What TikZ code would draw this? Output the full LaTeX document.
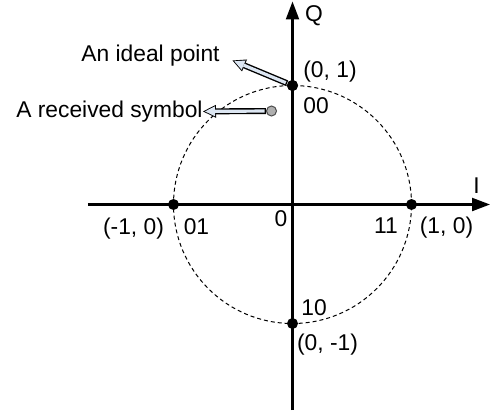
\documentclass[tikz,border=0pt]{standalone}
\usepackage{fontspec}
\setmainfont{Liberation Sans}
\usetikzlibrary{arrows.meta}
\definecolor{arrowfill}{RGB}{220,230,242}
\definecolor{symgrey}{RGB}{175,175,175}

\begin{document}
\begin{tikzpicture}[x=0.5pt, y=0.5pt,
    font=\fontsize{11.4}{13.5}\selectfont,
    axis/.style={line width=1.1pt, -{Triangle[length=9pt, width=6.5pt]}},
    dot/.style={circle, fill=black, inner sep=0pt, minimum size=5.5pt},
    lbl/.style={inner sep=0pt, anchor=base},
    hollowout/.style={line width=3pt, -{Triangle[length=6.5pt, width=6.5pt, line width=0pt]}},
    hollowin/.style={line width=1.6pt, arrowfill, shorten >=1pt, shorten <=0.7pt,
        -{Triangle[length=5pt, width=5pt, line width=0pt]}}]
    \useasboundingbox (-292.5,-207.5) rectangle (197.5,204.5);

    \coordinate (O) at (0,0);
    \coordinate (xs) at (-204.5,0);
    \coordinate (xe) at (197.5,0);
    \coordinate (ys) at (0,-205.5);
    \coordinate (ye) at (0,203);

    % unit circle
    \draw[line width=0.5pt, dash pattern=on 2pt off 1.5pt] (O) circle (119);

    % axes
    \draw[axis] (xs) -- (xe);
    \draw[axis] (ys) -- (ye);
    \node[lbl] (Ilab) at (184,11) {I};
    \node[lbl] (Qlab) at (21.5,182.5) {Q};

    % symbols
    \node[dot] (p00) at (0,119) {};
    \node[dot] (p01) at (-119,0) {};
    \node[dot] (p11) at (119,0) {};
    \node[dot] (p10) at (0,-119) {};
    \node[circle, draw=black!70, fill=symgrey, line width=0.5pt,
        inner sep=0pt, minimum size=5pt] (rx) at (-21,93.5) {};

    \node[lbl] (c00) at (23.5,91) {00};
    \node[lbl] (v00) at (37.5,127) {(0, 1)};
    \node[lbl] (c01) at (-96,-29.5) {01};
    \node[lbl] (v01) at (-159,-29.5) {(-1, 0)};
    \node[lbl] (c11) at (93.5,-29) {11};
    \node[lbl] (v11) at (154,-29) {(1, 0)};
    \node[lbl] (c10) at (21.5,-110.5) {10};
    \node[lbl] (v10) at (35,-145.5) {(0, -1)};
    \node[lbl] (olab) at (-11.5,-22) {0};

    % callouts
    \node[lbl] (ideal) at (-142,142.8) {An ideal point};
    \node[lbl, anchor=base east] (recv) at (-89.5,87.2) {A received symbol};
    \coordinate (idealtip) at (-60,144);
    \draw[hollowout] (p00) -- (idealtip);
    \draw[hollowin] (p00) -- (idealtip);
    \draw[hollowout] (rx) -- (recv.east);
    \draw[hollowin] (rx) -- (recv.east);
    \node[dot] at (p00) {};
\end{tikzpicture}
\end{document}
